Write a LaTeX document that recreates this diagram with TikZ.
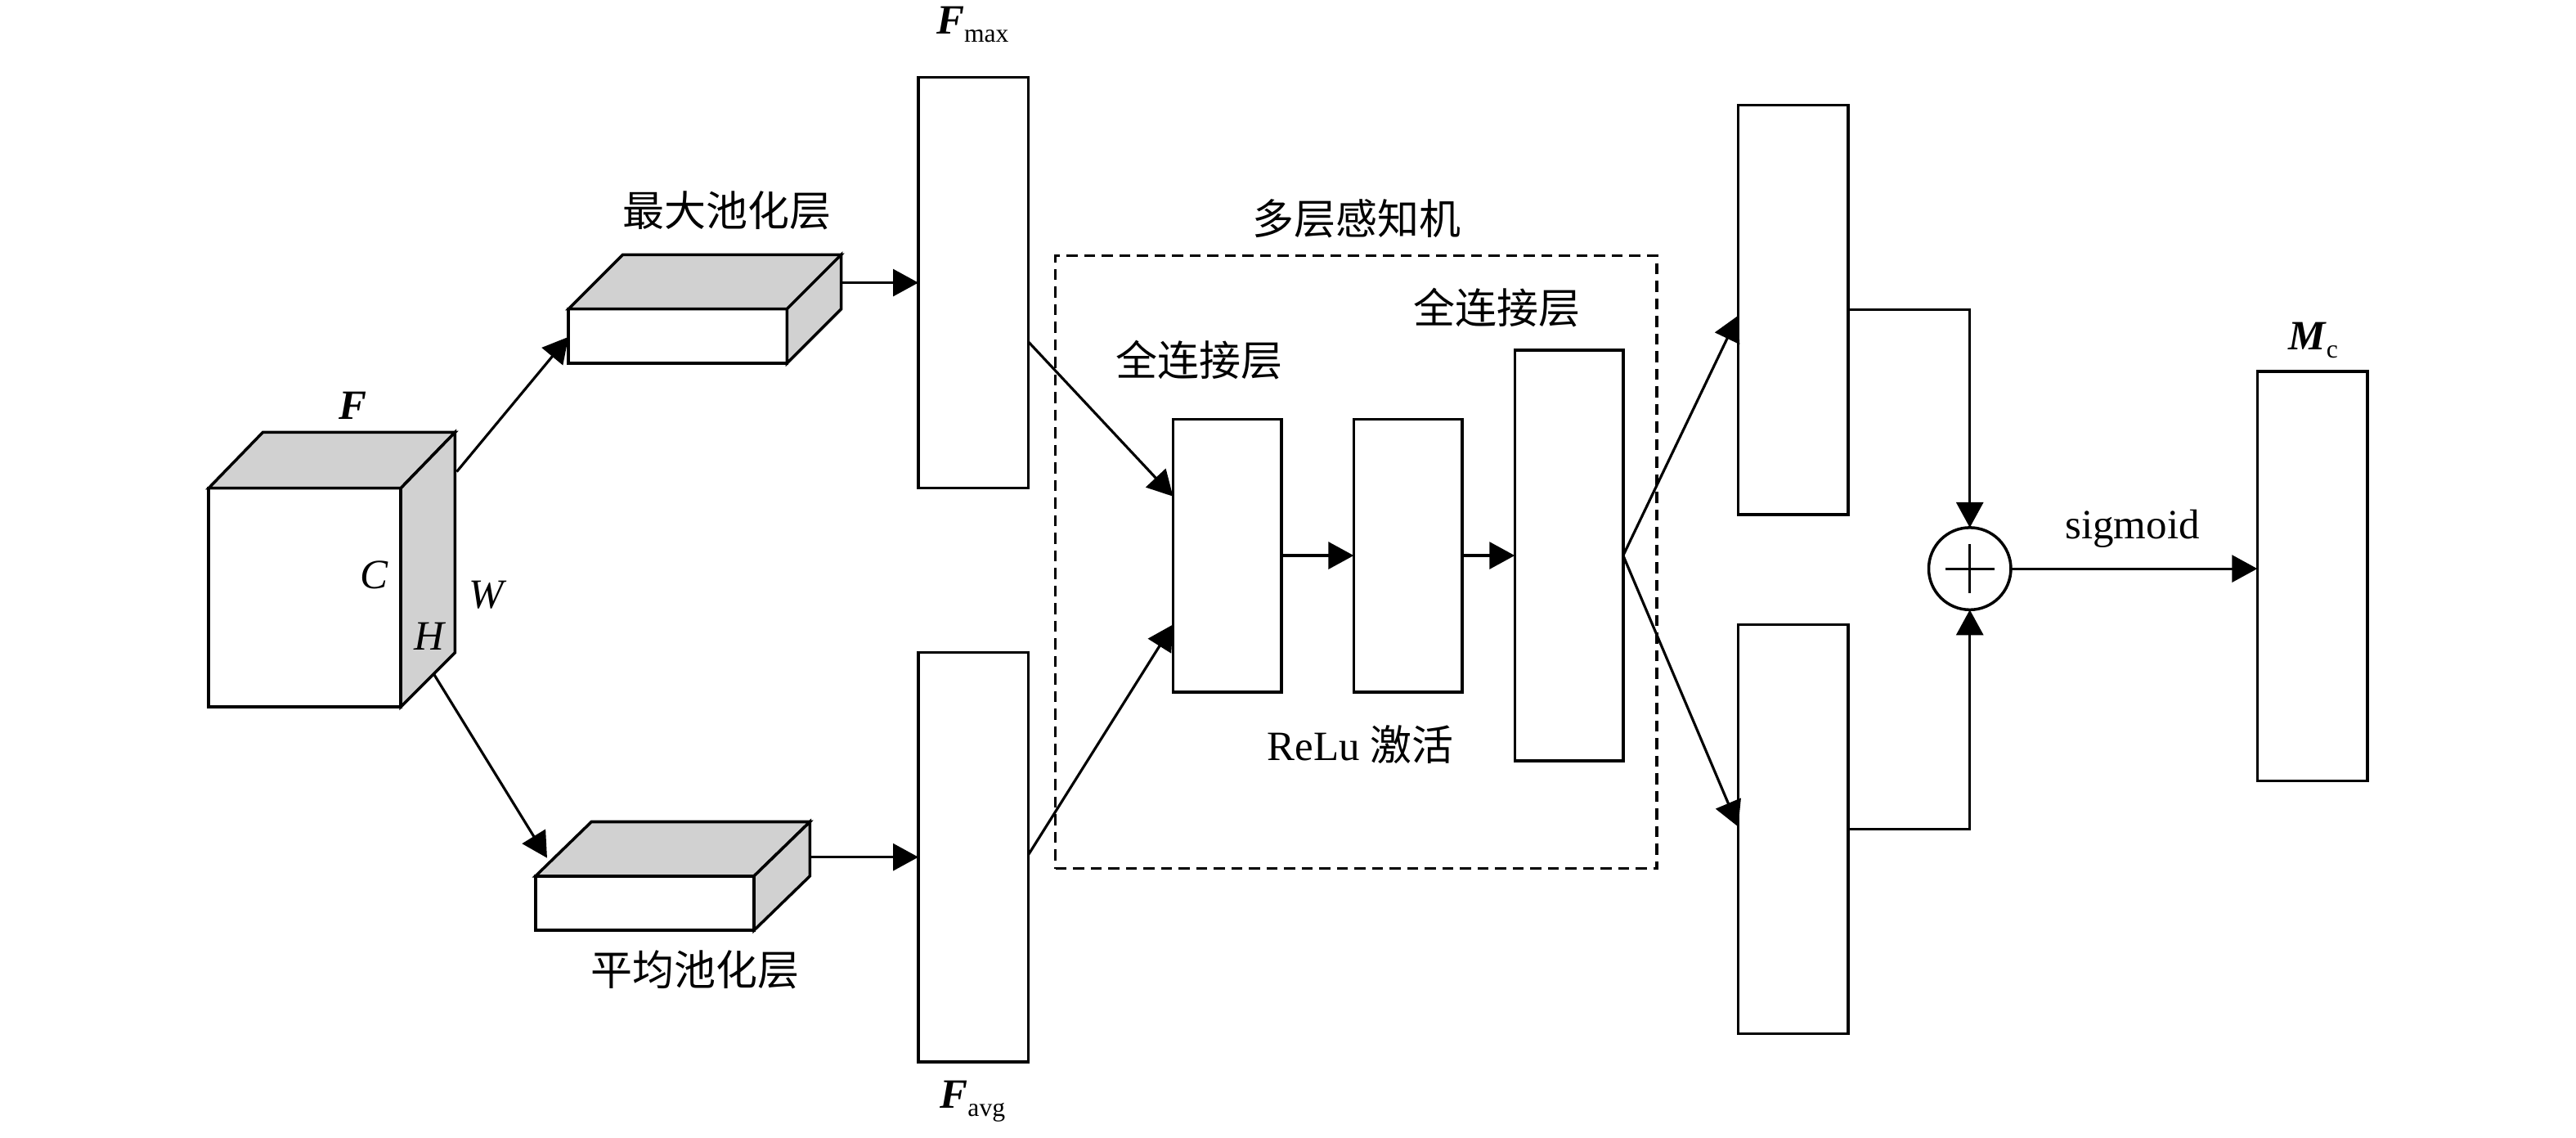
\documentclass[tikz,border=0pt]{standalone}
\usepackage{fontspec}
\setmainfont{Liberation Serif}
\newfontfamily\cjk{Noto Sans CJK SC}
\usetikzlibrary{arrows.meta,calc}
\definecolor{facegray}{RGB}{209,209,209}
\begin{document}
\begin{tikzpicture}[x=0.2009mm,y=-0.2009mm,
  every node/.style={inner sep=0pt, outer sep=0pt},
  blk/.style={draw, line width=1pt, fill=white, minimum width=67*0.2009mm},
  face/.style={draw, line width=1pt, line join=miter},
  arr/.style={line width=0.9pt, -{Triangle[length=3.1mm,width=3.3mm]}},
  cn/.style={font=\cjk\fontsize{14.5}{17}\selectfont},
  lt/.style={font=\fontsize{14.5}{17}\selectfont}]
\useasboundingbox (0,0) rectangle (1568,692);

% input cube F
\draw[face, fill=white] (127,297) rectangle (244,430);
\draw[face, fill=facegray] (127,297) -- (160,263) -- (277,263) -- (244,297) -- cycle;
\draw[face, fill=facegray] (244,297) -- (277,263) -- (277,397) -- (244,430) -- cycle;
\node[lt] (lF) at (215,247) {\textbf{\textit{F}}};
\node[lt] (lC) at (228,350) {\textit{C}};
\node[lt] (lH) at (262,387) {\textit{H}};
\node[lt] (lW) at (297,362) {\textit{W}};
\coordinate (cubeUp) at (278,287);
\coordinate (cubeDn) at (264,410);

% max pooling slab
\draw[face, fill=white] (346,188) rectangle (479,221);
\draw[face, fill=facegray] (346,188) -- (379,155) -- (512,155) -- (479,188) -- cycle;
\draw[face, fill=facegray] (479,188) -- (512,155) -- (512,188) -- (479,221) -- cycle;
\coordinate (mpIn) at (346,205);
\coordinate (mpOut) at (512,172);
\node[cn] (lmax) at (442.5,128) {最大池化层};

% average pooling slab
\draw[face, fill=white] (326,533) rectangle (459,566);
\draw[face, fill=facegray] (326,533) -- (360,500) -- (493,500) -- (459,533) -- cycle;
\draw[face, fill=facegray] (459,533) -- (493,500) -- (493,533) -- (459,566) -- cycle;
\coordinate (apIn) at (333,522);
\coordinate (apOut) at (493,521.5);
\node[cn] (lavg) at (423,590) {平均池化层};

% pooled vectors
\node[blk, minimum height=250*0.2009mm] (fmax) at (592.5,172) {};
\node[blk, minimum height=249*0.2009mm] (favg) at (592.5,521.5) {};
\node[lt] (lfmax) at (592,15) {\textbf{\textit{F}}\raisebox{-2.8pt}{\fontsize{9}{9}\selectfont max}};
\node[lt] (lfavg) at (592,670) {\textbf{\textit{F}}\raisebox{-2.8pt}{\fontsize{9}{9}\selectfont avg}};
\coordinate (fmaxOut) at (626,208);
\coordinate (favgOut) at (626,520);

% MLP
\node[draw, line width=0.9pt, dash pattern=on 1.35mm off 0.8mm,
      minimum width=366*0.2009mm, minimum height=373*0.2009mm] (mlp) at (825.5,342) {};
\node[cn] (lmlp) at (826,133) {多层感知机};
\node[blk, minimum width=66*0.2009mm, minimum height=166*0.2009mm] (fc1) at (747,338) {};
\node[blk, minimum width=66*0.2009mm, minimum height=166*0.2009mm] (relu) at (857,338) {};
\node[blk, minimum width=66*0.2009mm, minimum height=250*0.2009mm] (fc2) at (955,338) {};
\node[cn] (lfc1) at (730,219) {全连接层};
\node[cn] (lfc2) at (911,187) {全连接层};
\node[lt] (lrelu) at (828,453) {ReLu {\cjk 激活}};
\coordinate (fc1InA) at (714,302);
\coordinate (fc1InB) at (714,380);

% MLP outputs
\node[blk, minimum height=249*0.2009mm] (up) at (1091.5,188.5) {};
\node[blk, minimum height=249*0.2009mm] (low) at (1091.5,504.5) {};
\coordinate (upIn) at (1058,192);
\coordinate (lowIn) at (1058,503);

% sum
\node[circle, draw, line width=1pt, fill=white, minimum size=50*0.2009mm] (sum) at (1199,346) {};
\draw[line width=0.8pt] ($(sum.center)+(-15,0)$) -- ($(sum.center)+(15,0)$);
\draw[line width=0.8pt] ($(sum.center)+(0,-15)$) -- ($(sum.center)+(0,15)$);

% output
\node[blk, minimum height=249*0.2009mm] (mc) at (1407.5,350.5) {};
\node[lt] (lmc) at (1408,207) {\textbf{\textit{M}}\raisebox{-2.8pt}{\fontsize{9}{9}\selectfont c}};
\node[lt, anchor=base] (lsig) at (1298,328) {sigmoid};

% connectors
\draw[arr] (cubeUp) -- (mpIn);
\draw[arr] (cubeDn) -- (apIn);
\draw[arr] (mpOut) -- (fmax.west);
\draw[arr] (apOut) -- (favg.west);
\draw[arr] (fmaxOut) -- (fc1InA);
\draw[arr] (favgOut) -- (fc1InB);
\draw[arr] (fc1.east) -- (relu.west);
\draw[arr] (relu.east) -- (fc2.west);
\draw[arr] (fc2.east) -- (upIn);
\draw[arr] (fc2.east) -- (lowIn);
\draw[arr] (up.east) -| (sum.north);
\draw[arr] (low.east) -| (sum.south);
\draw[arr] (sum.east) -- (sum.east -| mc.west);
\end{tikzpicture}
\end{document}
